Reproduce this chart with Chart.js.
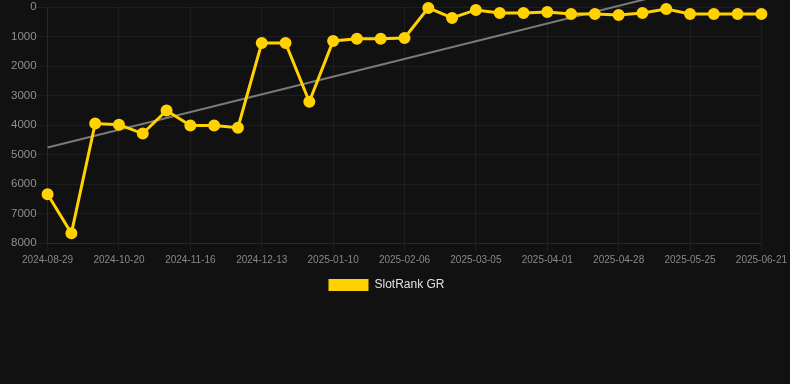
<!DOCTYPE html>
<html>
<head>
<meta charset="utf-8">
<script src="https://cdn.jsdelivr.net/npm/chart.js@4"></script>
<style>
  html, body { margin: 0; padding: 0; background: #111111; }
  #wrap { width: 790px; height: 301px; position: relative; }
</style>
</head>
<body>
<div id="wrap"><canvas id="c"></canvas></div>
<script>
const categories = [
  "2024-08-29","2024-10-02","2024-10-11","2024-10-20","2024-10-29","2024-11-07",
  "2024-11-16","2024-11-25","2024-12-04","2024-12-13","2024-12-22","2024-12-31",
  "2025-01-10","2025-01-19","2025-01-28","2025-02-06","2025-02-15","2025-02-24",
  "2025-03-05","2025-03-14","2025-03-23","2025-04-01","2025-04-10","2025-04-19",
  "2025-04-28","2025-05-07","2025-05-16","2025-05-25","2025-06-03","2025-06-12",
  "2025-06-21"
];
const slotRankGR = [
  6350, 7670, 3950, 3990, 4290, 3510, 4020, 4020, 4090, 1220, 1220, 3210,
  1150, 1080, 1080, 1050, 30, 370, 100, 200, 200, 170, 240, 240,
  270, 200, 70, 240, 240, 240, 240
];
// trend line endpoints (straight line between them)
const trendStart = 4760;
const trendEnd = -1240;
const yTicks = [0, 1000, 2000, 3000, 4000, 5000, 6000, 7000, 8000];

const trend = categories.map((_, i) => i === 0 ? trendStart : (i === categories.length - 1 ? trendEnd : null));

Chart.defaults.font.family = '"Liberation Sans", Arial, Helvetica, sans-serif';

new Chart(document.getElementById('c'), {
  type: 'line',
  data: {
    labels: categories,
    datasets: [
      {
        label: 'SlotRank GR',
        data: slotRankGR,
        borderColor: '#ffd200',
        backgroundColor: '#ffd200',
        borderWidth: 3,
        pointRadius: 5,
        pointBorderWidth: 2,
        pointBackgroundColor: '#ffd200',
        pointBorderColor: '#ffd200',
        tension: 0,
        clip: false,
        order: 1
      },
      {
        label: 'trend',
        data: trend,
        spanGaps: true,
        borderColor: '#7a7a7a',
        borderWidth: 2,
        pointRadius: 0,
        pointHoverRadius: 0,
        fill: false,
        clip: false,
        order: 2
      }
    ]
  },
  options: {
    responsive: true,
    maintainAspectRatio: false,
    animation: false,
    layout: { padding: { left: 11, right: 28, top: 0, bottom: 0 } },
    scales: {
      x: {
        grid: { color: 'rgba(255,255,255,0.05)' },
        border: { color: 'rgba(255,255,255,0.05)' },
        ticks: {
          color: '#888888',
          font: { size: 10 },
          maxRotation: 0,
          autoSkip: true,
          maxTicksLimit: 11
        }
      },
      y: {
        reverse: true,
        min: yTicks[0],
        max: yTicks[yTicks.length - 1],
        grid: { color: 'rgba(255,255,255,0.05)', tickLength: 11 },
        border: { color: 'rgba(255,255,255,0.05)' },
        afterBuildTicks: (axis) => { axis.ticks = yTicks.map(v => ({ value: v })); },
        ticks: {
          color: '#8f8f8f',
          font: { size: 11.5 },
          padding: 0,
          callback: (v) => String(v)
        }
      }
    },
    plugins: {
      legend: {
        position: 'bottom',
        labels: {
          color: '#e0e0e0',
          font: { size: 12 },
          boxWidth: 40,
          boxHeight: 12,
          filter: (item) => item.text !== 'trend',
          generateLabels: (chart) => Chart.defaults.plugins.legend.labels.generateLabels(chart).map(l => Object.assign(l, { lineWidth: 0 }))
        }
      },
      tooltip: { enabled: false }
    }
  }
});
</script>
</body>
</html>
